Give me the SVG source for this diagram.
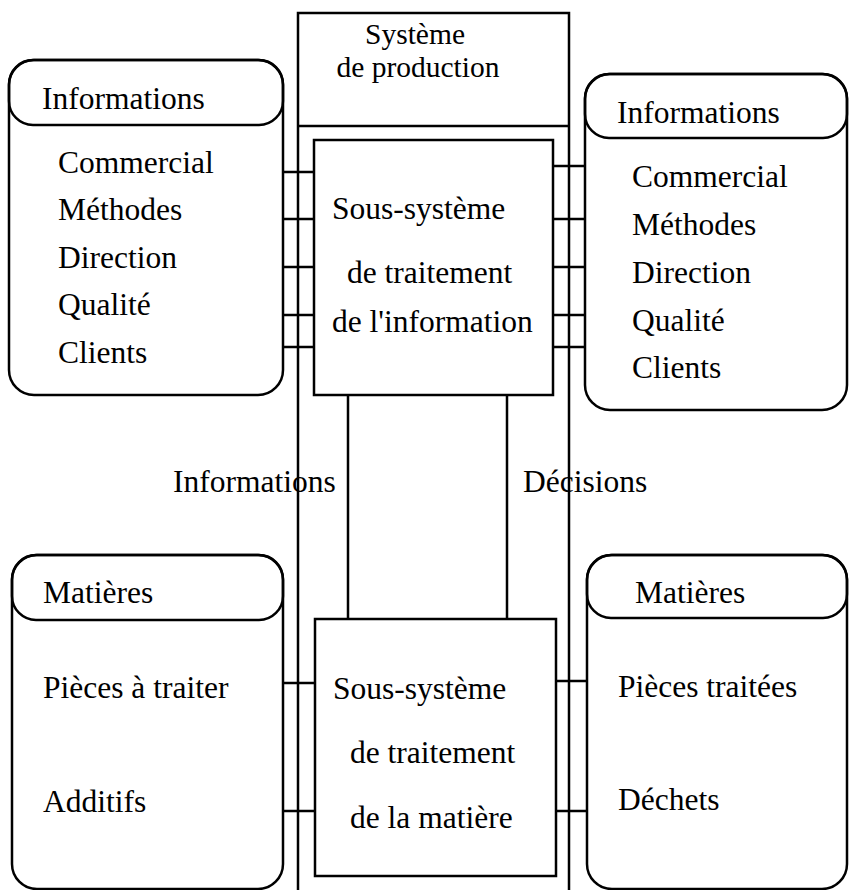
<svg xmlns="http://www.w3.org/2000/svg" width="849" height="890" viewBox="0 0 849 890">
<style>
.s{fill:none;stroke:#000;stroke-width:2.5}
text{font-family:"Liberation Serif","Times New Roman",serif;font-size:31.5px;fill:#000}
.t{font-size:29.5px}
</style>
<rect width="849" height="890" fill="#fff"/>
<g id="systeme-production">
<path class="s" d="M298,890 V13 H569 V890 M298,126 H569"/>
<text class="t" x="415" y="44" text-anchor="middle">Système</text>
<text class="t" x="418" y="77" text-anchor="middle">de production</text>
</g>
<g id="connectors">
<path class="s" d="M283,172 H314 M283,219 H314 M283,267 H314 M283,315 H314 M283,347 H314"/>
<path class="s" d="M553,166 H585 M553,219 H585 M553,267 H585 M553,315 H585 M553,347 H585"/>
<path class="s" d="M283,683 H315 M283,811 H315"/>
<path class="s" d="M556,681 H587 M556,811 H587"/>
<path class="s" d="M348,395 V619 M507,395 V619"/>
</g>
<g id="ss-information">
<rect class="s" x="314" y="140" width="239" height="255"/>
<text x="332" y="219">Sous-système</text>
<text x="347" y="283">de traitement</text>
<text x="332" y="332">de l'information</text>
</g>
<g id="ss-matiere">
<rect class="s" x="315" y="619" width="241" height="257"/>
<text x="333" y="699">Sous-système</text>
<text x="350" y="763">de traitement</text>
<text x="350" y="828">de la matière</text>
</g>
<g id="labels">
<text x="173" y="492">Informations</text>
<text x="523" y="492">Décisions</text>
</g>
<g id="informations-gauche">
<rect class="s" x="9" y="60" width="274" height="335" rx="25"/>
<rect class="s" x="9" y="60" width="274" height="65" rx="24"/>
<text x="42" y="109">Informations</text>
<text x="58" y="173">Commercial</text>
<text x="58" y="220">Méthodes</text>
<text x="58" y="268">Direction</text>
<text x="58" y="315">Qualité</text>
<text x="58" y="363">Clients</text>
</g>
<g id="informations-droite">
<rect class="s" x="585" y="74" width="262" height="336" rx="25"/>
<rect class="s" x="585" y="74" width="262" height="64" rx="24"/>
<text x="617" y="123">Informations</text>
<text x="632" y="187">Commercial</text>
<text x="632" y="235">Méthodes</text>
<text x="632" y="283">Direction</text>
<text x="632" y="331">Qualité</text>
<text x="632" y="378">Clients</text>
</g>
<g id="matieres-gauche">
<rect class="s" x="12" y="555" width="271" height="334" rx="25"/>
<rect class="s" x="12" y="555" width="271" height="65" rx="24"/>
<text x="43" y="603">Matières</text>
<text x="43" y="698">Pièces à traiter</text>
<text x="43" y="812">Additifs</text>
</g>
<g id="matieres-droite">
<rect class="s" x="587" y="555" width="260" height="334" rx="25"/>
<rect class="s" x="587" y="555" width="260" height="63" rx="24"/>
<text x="635" y="603">Matières</text>
<text x="618" y="697">Pièces traitées</text>
<text x="618" y="810">Déchets</text>
</g>
</svg>
